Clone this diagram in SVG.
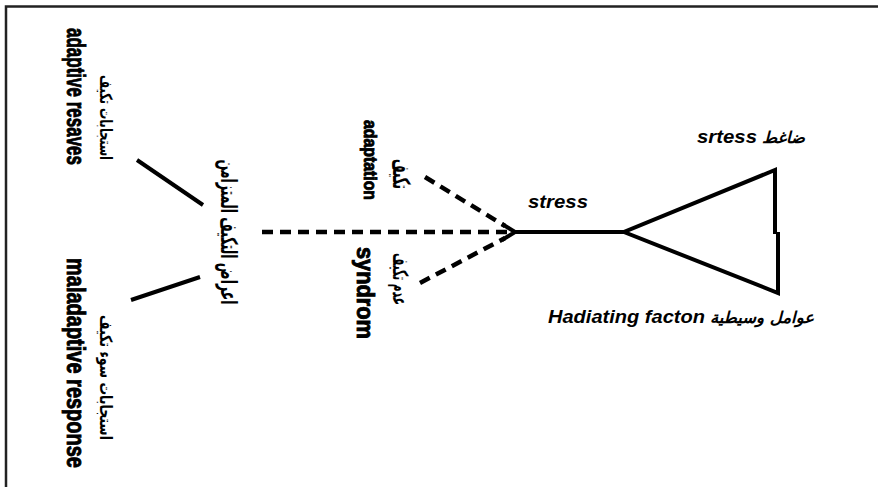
<svg xmlns="http://www.w3.org/2000/svg" width="878" height="487" viewBox="0 0 878 487">
<style>
.lat{font-family:"Liberation Sans",Arial,sans-serif;font-weight:bold;fill:#000}
.heavy{stroke:#000;stroke-width:0.9}
.ar{font-family:"DejaVu Sans","Noto Sans",sans-serif;fill:#000;font-weight:bold}
.it{font-style:italic}
.solid{stroke:#000;stroke-width:4;fill:none;stroke-linecap:butt}
.dash{stroke:#000;stroke-width:4.5;fill:none;stroke-dasharray:11 7}
.mid{text-anchor:middle}
</style>
<rect x="0" y="0" width="878" height="487" fill="#fff"/>
<g id="frame" fill="none" stroke="#222" stroke-width="2.5">
<path d="M6,487 V6.5 H878"/>
</g>
<g id="connectors">
<path class="solid" d="M137,160 L203,205"/>
<path class="solid" d="M131,300 L200,277"/>
<path class="dash" d="M262,232 L508,232"/>
<path class="dash" d="M425,177 L505,226"/>
<path class="dash" d="M420,283 L505,238"/>
<path class="solid" d="M502,224 L515,232 L502,240"/>
<path class="solid" d="M513,232 L624,232"/>
<path class="solid" stroke-linejoin="miter" d="M777,232 L775,232 L775,170 L624,232 L778,293 L778,232"/>
</g>
<g id="node-adaptive-resaves">
<text class="lat heavy mid" font-size="26" textLength="137" lengthAdjust="spacingAndGlyphs" transform="matrix(0,1,-1,0,67,0)" x="96.5" y="0">adaptive resaves</text>
<text class="ar mid" font-size="17" textLength="85" lengthAdjust="spacingAndGlyphs" transform="matrix(0,1,-1,0,100,0)" x="117.5" y="0">استجابات تكيف</text>
</g>
<g id="node-maladaptive-response">
<text class="lat heavy mid" font-size="26" textLength="210" lengthAdjust="spacingAndGlyphs" transform="matrix(0,1,-1,0,67,0)" x="363" y="0">maladaptive response</text>
<text class="ar mid" font-size="17" textLength="125" lengthAdjust="spacingAndGlyphs" transform="matrix(0,1,-1,0,100,0)" x="377.5" y="0">استجابات سوء تكيف</text>
</g>
<g id="node-syndrome-symptoms">
<text class="ar mid" font-size="23" textLength="145" lengthAdjust="spacingAndGlyphs" transform="matrix(0,1,-1,0,221,0)" x="232" y="0">اعراض التكيف المتزامن</text>
</g>
<g id="node-adaptation">
<text class="lat heavy mid" font-size="18" textLength="80" lengthAdjust="spacingAndGlyphs" transform="matrix(0,1,-1,0,364,0)" x="160" y="0">adaptation</text>
<text class="ar mid" font-size="24" textLength="30" lengthAdjust="spacingAndGlyphs" transform="matrix(0,1,-1,0,393,0)" x="174" y="0">تكيف</text>
</g>
<g id="node-syndrom">
<text class="lat heavy mid" font-size="23" textLength="92" lengthAdjust="spacingAndGlyphs" transform="matrix(0,1,-1,0,357,0)" x="293" y="0">syndrom</text>
<text class="ar mid" font-size="21" textLength="52" lengthAdjust="spacingAndGlyphs" transform="matrix(0,1,-1,0,393,0)" x="279" y="0">عدم تكيف</text>
</g>
<g id="node-stress">
<text class="lat it" font-size="18" textLength="60" lengthAdjust="spacingAndGlyphs" x="528" y="208">stress</text>
</g>
<g id="node-stressor">
<text class="lat it" font-size="18" textLength="60" lengthAdjust="spacingAndGlyphs" x="697" y="143">srtess</text>
<text class="ar it mid" font-size="16" textLength="43" lengthAdjust="spacingAndGlyphs" x="783.5" y="143">ضاغط</text>
</g>
<g id="node-mediating-factors">
<text class="lat it" font-size="18" textLength="157" lengthAdjust="spacingAndGlyphs" x="548" y="323">Hadiating facton</text>
<text class="ar it mid" font-size="16" textLength="104" lengthAdjust="spacingAndGlyphs" x="762" y="323">عوامل وسيطية</text>
</g>
</svg>
